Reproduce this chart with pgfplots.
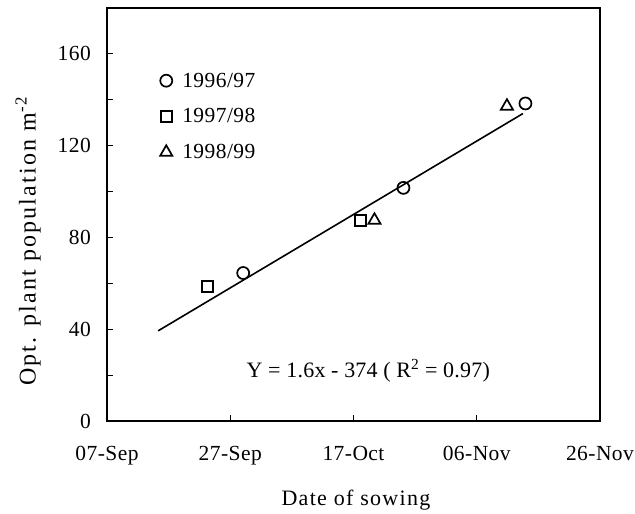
\documentclass[border=0pt]{standalone}
\usepackage{pgfplots}
\pgfplotsset{compat=1.18}
\usepackage{fontspec}
\setmainfont{Liberation Serif}
\begin{document}
\begin{tikzpicture}
\begin{axis}[
  scale only axis,
  width=493pt, height=413pt,
  xmin=250, xmax=330, ymin=0, ymax=180,
  xtick={250,270,290,310,330},
  xticklabels={07-Sep,27-Sep,17-Oct,06-Nov,26-Nov},
  ytick={0,40,80,120,160},
  minor ytick={20,60,100,140},
  xtick pos=left, ytick pos=left,
  tick align=inside,
  major tick length=6pt, minor tick length=6pt,
  every tick/.style={black, line width=1.2pt},
  axis line style={line width=1.8pt},
  /pgf/number format/assume math mode=true,
  ticklabel style={font=\fontsize{21.5}{25}\selectfont\addfontfeature{LetterSpace=2}},
  xticklabel style={anchor=base, inner sep=0pt, yshift=-39pt},
  yticklabel style={anchor=east, inner sep=0pt, xshift=-16pt},
  xlabel={Date of sowing},
  ylabel={Opt. plant population m\textsuperscript{-2}},
  xlabel style={at={(axis description cs:0.505,0)}, anchor=base, inner sep=0pt, yshift=-84pt,
    font=\fontsize{22}{26}\selectfont\addfontfeature{LetterSpace=6}},
  ylabel style={at={(axis description cs:-0.160,0.435)}, anchor=center, inner sep=0pt,
    font=\fontsize{24}{28}\selectfont\addfontfeature{LetterSpace=9}},
  clip=false,
  legend style={at={(axis cs:258.6,152.7)}, anchor=north west, draw=none, fill=none,
    font=\fontsize{21.5}{25}\selectfont\addfontfeature{LetterSpace=2}, row sep=16pt, column sep=8pt, inner sep=0pt},
  legend cell align=left,
]
\addplot[only marks, mark=o, mark size=6pt, line width=1.7pt, black] coordinates {(272.1,64.5) (298.1,101.6) (317.9,138.4)};
\addlegendentry{1996/97}
\addplot[only marks, mark=square, mark size=5.5pt, line width=1.8pt, black] coordinates {(266.3,58.6) (291.2,87.5)};
\addlegendentry{1997/98}
\addplot[only marks, mark=triangle, mark size=7pt, line width=1.7pt, black] coordinates {(293.4,87.5) (314.9,137.2)};
\addlegendentry{1998/99}
\addplot[black, line width=1.6pt, forget plot] coordinates {(258.3,39.3) (317.5,134.0)};
\node[font=\fontsize{22}{26}\selectfont\addfontfeature{LetterSpace=1}] at (axis cs:292.4,21.8) {Y = 1.6x - 374 ( R\textsuperscript{2} = 0.97)};
\coordinate (tl) at (rel axis cs:0,1);
\coordinate (br) at (rel axis cs:1,0);
\end{axis}
\path (tl) ++(-107pt,8pt);
\path (br) ++(35pt,-92pt);
\end{tikzpicture}
\end{document}
